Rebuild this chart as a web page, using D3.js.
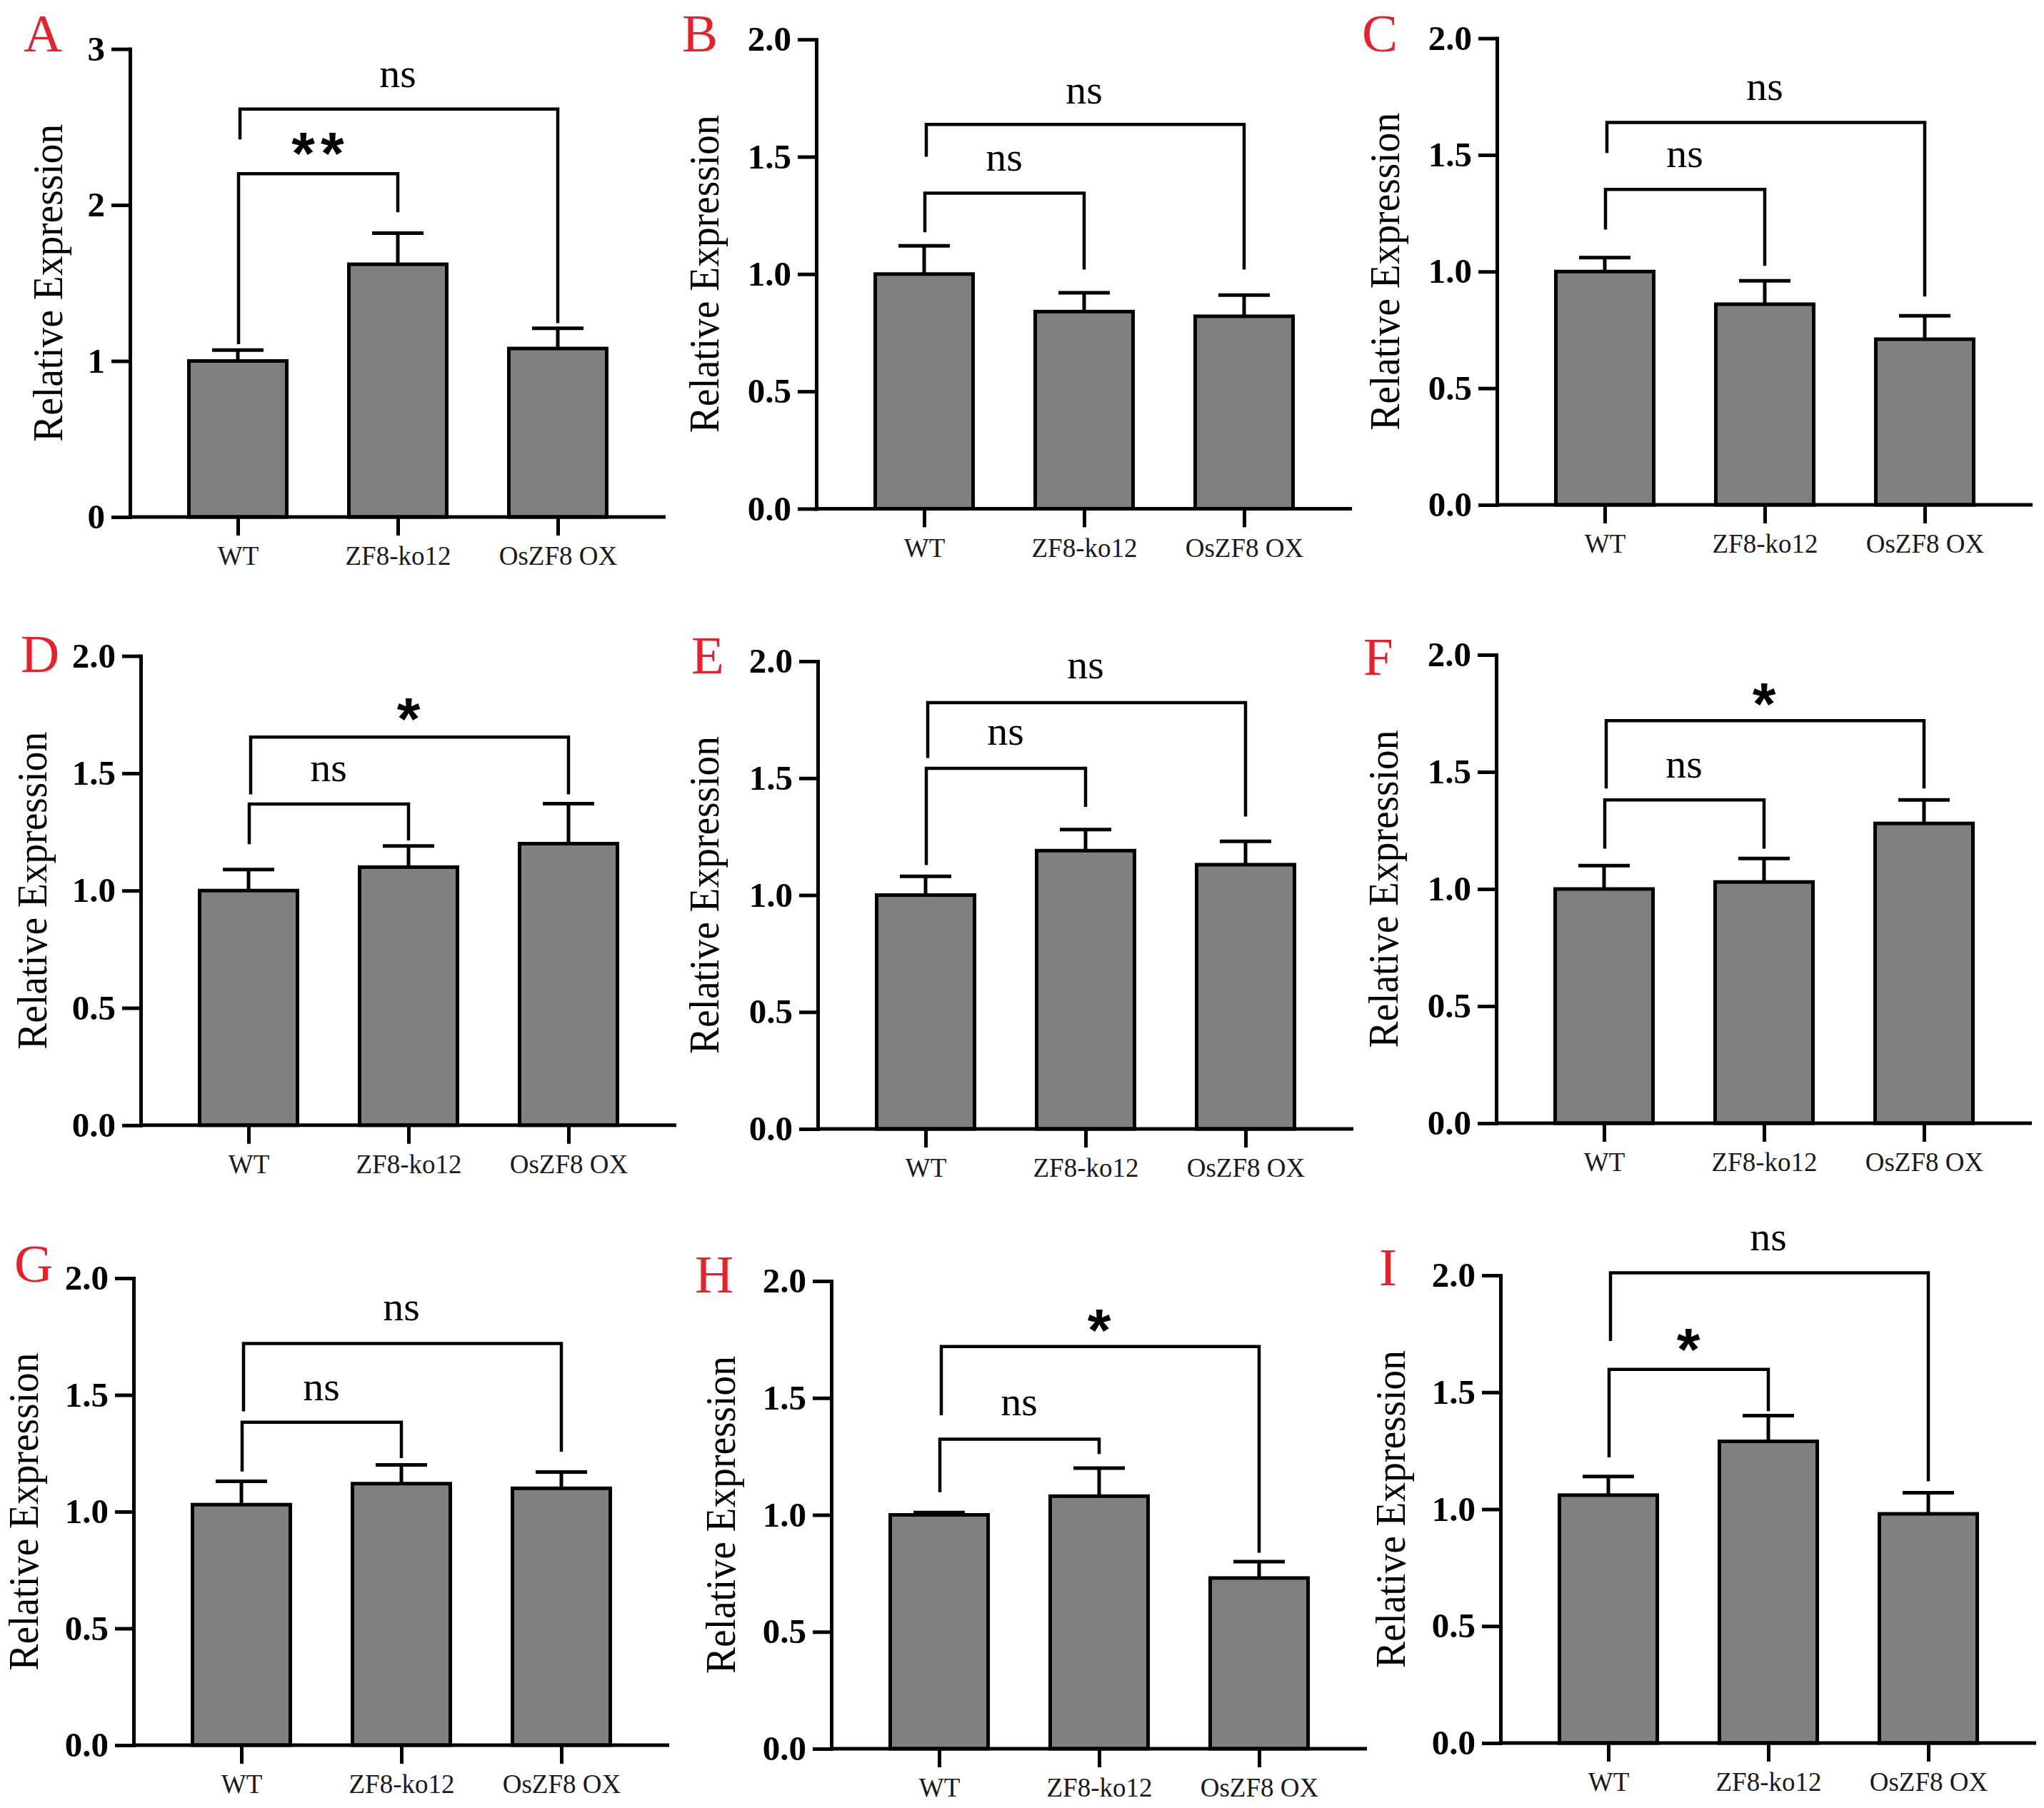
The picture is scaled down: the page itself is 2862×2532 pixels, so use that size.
<!DOCTYPE html>
<html>
<head>
<meta charset="utf-8">
<script src="https://cdn.jsdelivr.net/npm/d3@7"></script>
<style>
  html, body { margin: 0; padding: 0; background: #fff; }
  svg { display: block; }
</style>
</head>
<body>
<script>
// ---------------- DATA ----------------
const panels = ["A", "B", "C", "D", "E", "F", "G", "H", "I"];
const categories = ["WT", "ZF8-ko12", "OsZF8 OX"];

// means per panel (A..I)
const wtMean = [1.00, 1.00, 1.00, 1.00, 1.00, 1.00, 1.03, 1.00, 1.06];
const koMean = [1.62, 0.84, 0.86, 1.10, 1.19, 1.03, 1.12, 1.08, 1.29];
const oxMean = [1.08, 0.82, 0.71, 1.20, 1.13, 1.28, 1.10, 0.73, 0.98];
// error (upper SD) per panel
const wtSD = [0.07, 0.12, 0.06, 0.09, 0.08, 0.10, 0.10, 0.01, 0.08];
const koSD = [0.20, 0.08, 0.10, 0.09, 0.09, 0.10, 0.08, 0.12, 0.11];
const oxSD = [0.13, 0.09, 0.10, 0.17, 0.10, 0.10, 0.07, 0.07, 0.09];

// y axis
const yMax = [3, 2, 2, 2, 2, 2, 2, 2, 2];
const yTicksA = [0, 1, 2, 3];
const yTicks = [0, 0.5, 1.0, 1.5, 2.0];

// significance brackets (values in data units)
// outer: WT vs OsZF8 OX ; inner: WT vs ZF8-ko12
const outerY     = [2.615, 1.638, 1.639, 1.654, 1.823, 1.719, 1.720, 1.720, 2.011];
const outerLeft  = [2.420, 1.500, 1.508, 1.410, 1.586, 1.429, 1.430, 1.426, 1.719];
const outerRight = [1.243, 1.019, 0.893, 1.410, 1.336, 1.429, 1.257, 0.838, 1.119];
const outerLabel = ["ns", "ns", "ns", "*", "ns", "*", "ns", "*", "ns"];
const outerLabelAt = [2.82, 1.77, 1.779, 1.785, 1.97, 1.845, 1.862, 1.843, 2.149];

const innerY     = [2.200, 1.345, 1.352, 1.369, 1.542, 1.380, 1.383, 1.324, 1.598];
const innerLeft  = [1.108, 1.178, 1.180, 1.198, 1.128, 1.172, 1.172, 1.097, 1.221];
const innerRight = [1.953, 1.019, 1.025, 1.214, 1.377, 1.172, 1.229, 1.260, 1.419];
const innerLabel = ["**", "ns", "ns", "ns", "ns", "ns", "ns", "ns", "*"];
const innerLabelAt = [2.41, 1.483, 1.492, 1.508, 1.684, 1.518, 1.521, 1.47, 1.736];

const yTitle = "Relative Expression";

// ---------------- LAYOUT ----------------
const layout = [
  {x0: 182,  top: 68.6,  base: 724,    lx: 33,   ly: 72,   tx: 73.5},
  {x0: 1143, top: 55.2,  base: 712.4,  lx: 955,  ly: 72,   tx: 993},
  {x0: 2096, top: 53.6,  base: 707,    lx: 1907, ly: 72,   tx: 1946},
  {x0: 197,  top: 918.6, base: 1575.8, lx: 29,   ly: 941,  tx: 52},
  {x0: 1145, top: 926,   base: 1581,   lx: 968,  ly: 943,  tx: 993},
  {x0: 2095, top: 917,   base: 1573,   lx: 1909, ly: 945,  tx: 1944},
  {x0: 187,  top: 1790,  base: 2444,   lx: 20,   ly: 1795, tx: 40},
  {x0: 1164, top: 1794,  base: 2449,   lx: 973,  ly: 1810, tx: 1016},
  {x0: 2101, top: 1786,  base: 2441,   lx: 1931, ly: 1800, tx: 1954}
];

const W = 2862, H = 2532;
const SERIF = "'Liberation Serif', 'Times New Roman', serif";
const SANS = "'Liberation Sans', Arial, sans-serif";
const LW = 5;

const svg = d3.select("body").append("svg")
  .attr("width", W).attr("height", H)
  .attr("viewBox", `0 0 ${W} ${H}`);
svg.append("rect").attr("width", W).attr("height", H).attr("fill", "#fff");

const means = [wtMean, koMean, oxMean];
const sds = [wtSD, koSD, oxSD];

panels.forEach((p, i) => {
  const L = layout[i];
  const g = svg.append("g").attr("class", "panel-" + p);

  const y = d3.scaleLinear().domain([0, yMax[i]]).range([L.base, L.top]);
  const x = d3.scalePoint().domain(categories).range([L.x0 + 151, L.x0 + 599]);
  const xEnd = L.x0 + 750;
  const barW = 137;

  const data = categories.map((c, k) => ({c, m: means[k][i], sd: sds[k][i]}));

  // bars
  g.selectAll("rect.bar").data(data).enter().append("rect")
    .attr("class", "bar")
    .attr("x", d => x(d.c) - barW / 2)
    .attr("y", d => y(d.m))
    .attr("width", barW)
    .attr("height", d => y(0) - y(d.m))
    .attr("fill", "#808080")
    .attr("stroke", "#000")
    .attr("stroke-width", LW);

  // error bars (upper only)
  const eb = g.selectAll("g.err").data(data).enter().append("g").attr("class", "err");
  eb.append("line")
    .attr("x1", d => x(d.c)).attr("x2", d => x(d.c))
    .attr("y1", d => y(d.m)).attr("y2", d => y(d.m + d.sd))
    .attr("stroke", "#000").attr("stroke-width", LW);
  eb.append("line")
    .attr("x1", d => x(d.c) - 36).attr("x2", d => x(d.c) + 36)
    .attr("y1", d => y(d.m + d.sd)).attr("y2", d => y(d.m + d.sd))
    .attr("stroke", "#000").attr("stroke-width", LW);

  // y axis
  const yAxis = d3.axisLeft(y)
    .tickValues(i === 0 ? yTicksA : yTicks)
    .tickFormat(i === 0 ? d3.format("d") : d3.format(".1f"))
    .tickSize(26).tickSizeOuter(0).tickPadding(9);
  const ya = g.append("g").attr("transform", `translate(${L.x0},0)`).call(yAxis);
  ya.select(".domain").attr("stroke", "#000").attr("stroke-width", LW)
    .attr("stroke-linecap", "square");
  ya.selectAll(".tick line").attr("stroke", "#000").attr("stroke-width", LW);
  ya.selectAll(".tick text")
    .attr("fill", "#000")
    .style("font-family", SERIF).style("font-weight", "bold").style("font-size", "49px");

  // x axis
  const xAxis = d3.axisBottom(x).tickSize(26).tickSizeOuter(0).tickPadding(15);
  const xa = g.append("g").attr("transform", `translate(0,${L.base})`).call(xAxis);
  xa.select(".domain").remove();
  xa.selectAll(".tick line").attr("stroke", "#000").attr("stroke-width", LW);
  xa.selectAll(".tick text")
    .attr("fill", "#1a1a1a")
    .style("font-family", SERIF).style("font-size", "37px");
  g.append("line")
    .attr("x1", L.x0).attr("x2", xEnd)
    .attr("y1", L.base).attr("y2", L.base)
    .attr("stroke", "#000").attr("stroke-width", LW);

  // y title
  const ty = (L.top + L.base) / 2;
  g.append("text")
    .attr("transform", `translate(${L.tx + 13},${ty}) rotate(-90)`)
    .attr("text-anchor", "middle")
    .attr("textLength", 445).attr("lengthAdjust", "spacingAndGlyphs")
    .style("font-family", SERIF).style("font-size", "60px")
    .attr("fill", "#000")
    .text(yTitle);

  // panel letter
  g.append("text")
    .attr("x", L.lx).attr("y", L.ly)
    .style("font-family", SERIF).style("font-size", "75px")
    .attr("fill", "#e8202a")
    .text(p);

  // brackets
  const xW = x(categories[0]), xK = x(categories[1]), xO = x(categories[2]);
  const bracket = (xl, xr, yl, yb, yr) =>
    `M${xl},${y(yl)}V${y(yb)}H${xr}V${y(yr)}`;
  g.append("path")
    .attr("d", bracket(xW + 3, xO, outerLeft[i], outerY[i], outerRight[i]))
    .attr("fill", "none").attr("stroke", "#000").attr("stroke-width", 4.5);
  g.append("path")
    .attr("d", bracket(xW + 1, xK, innerLeft[i], innerY[i], innerRight[i]))
    .attr("fill", "none").attr("stroke", "#000").attr("stroke-width", 4.5);

  const sigLabel = (txt, cx, val) => {
    const t = g.append("text").attr("text-anchor", "middle").attr("fill", "#000");
    if (txt === "ns") {
      t.attr("x", cx).attr("y", y(val) + 14)
        .style("font-family", SERIF).style("font-size", "58px");
    } else {
      t.attr("x", cx + (txt.length > 1 ? 4 : 0)).attr("y", y(val) + 47)
        .style("font-family", SANS).style("font-weight", "bold").style("font-size", "84px")
        .style("letter-spacing", txt.length > 1 ? "8px" : "0px");
    }
    t.text(txt);
  };
  sigLabel(outerLabel[i], (xW + xO) / 2, outerLabelAt[i]);
  sigLabel(innerLabel[i], (xW + xK) / 2, innerLabelAt[i]);
});
</script>
</body>
</html>
